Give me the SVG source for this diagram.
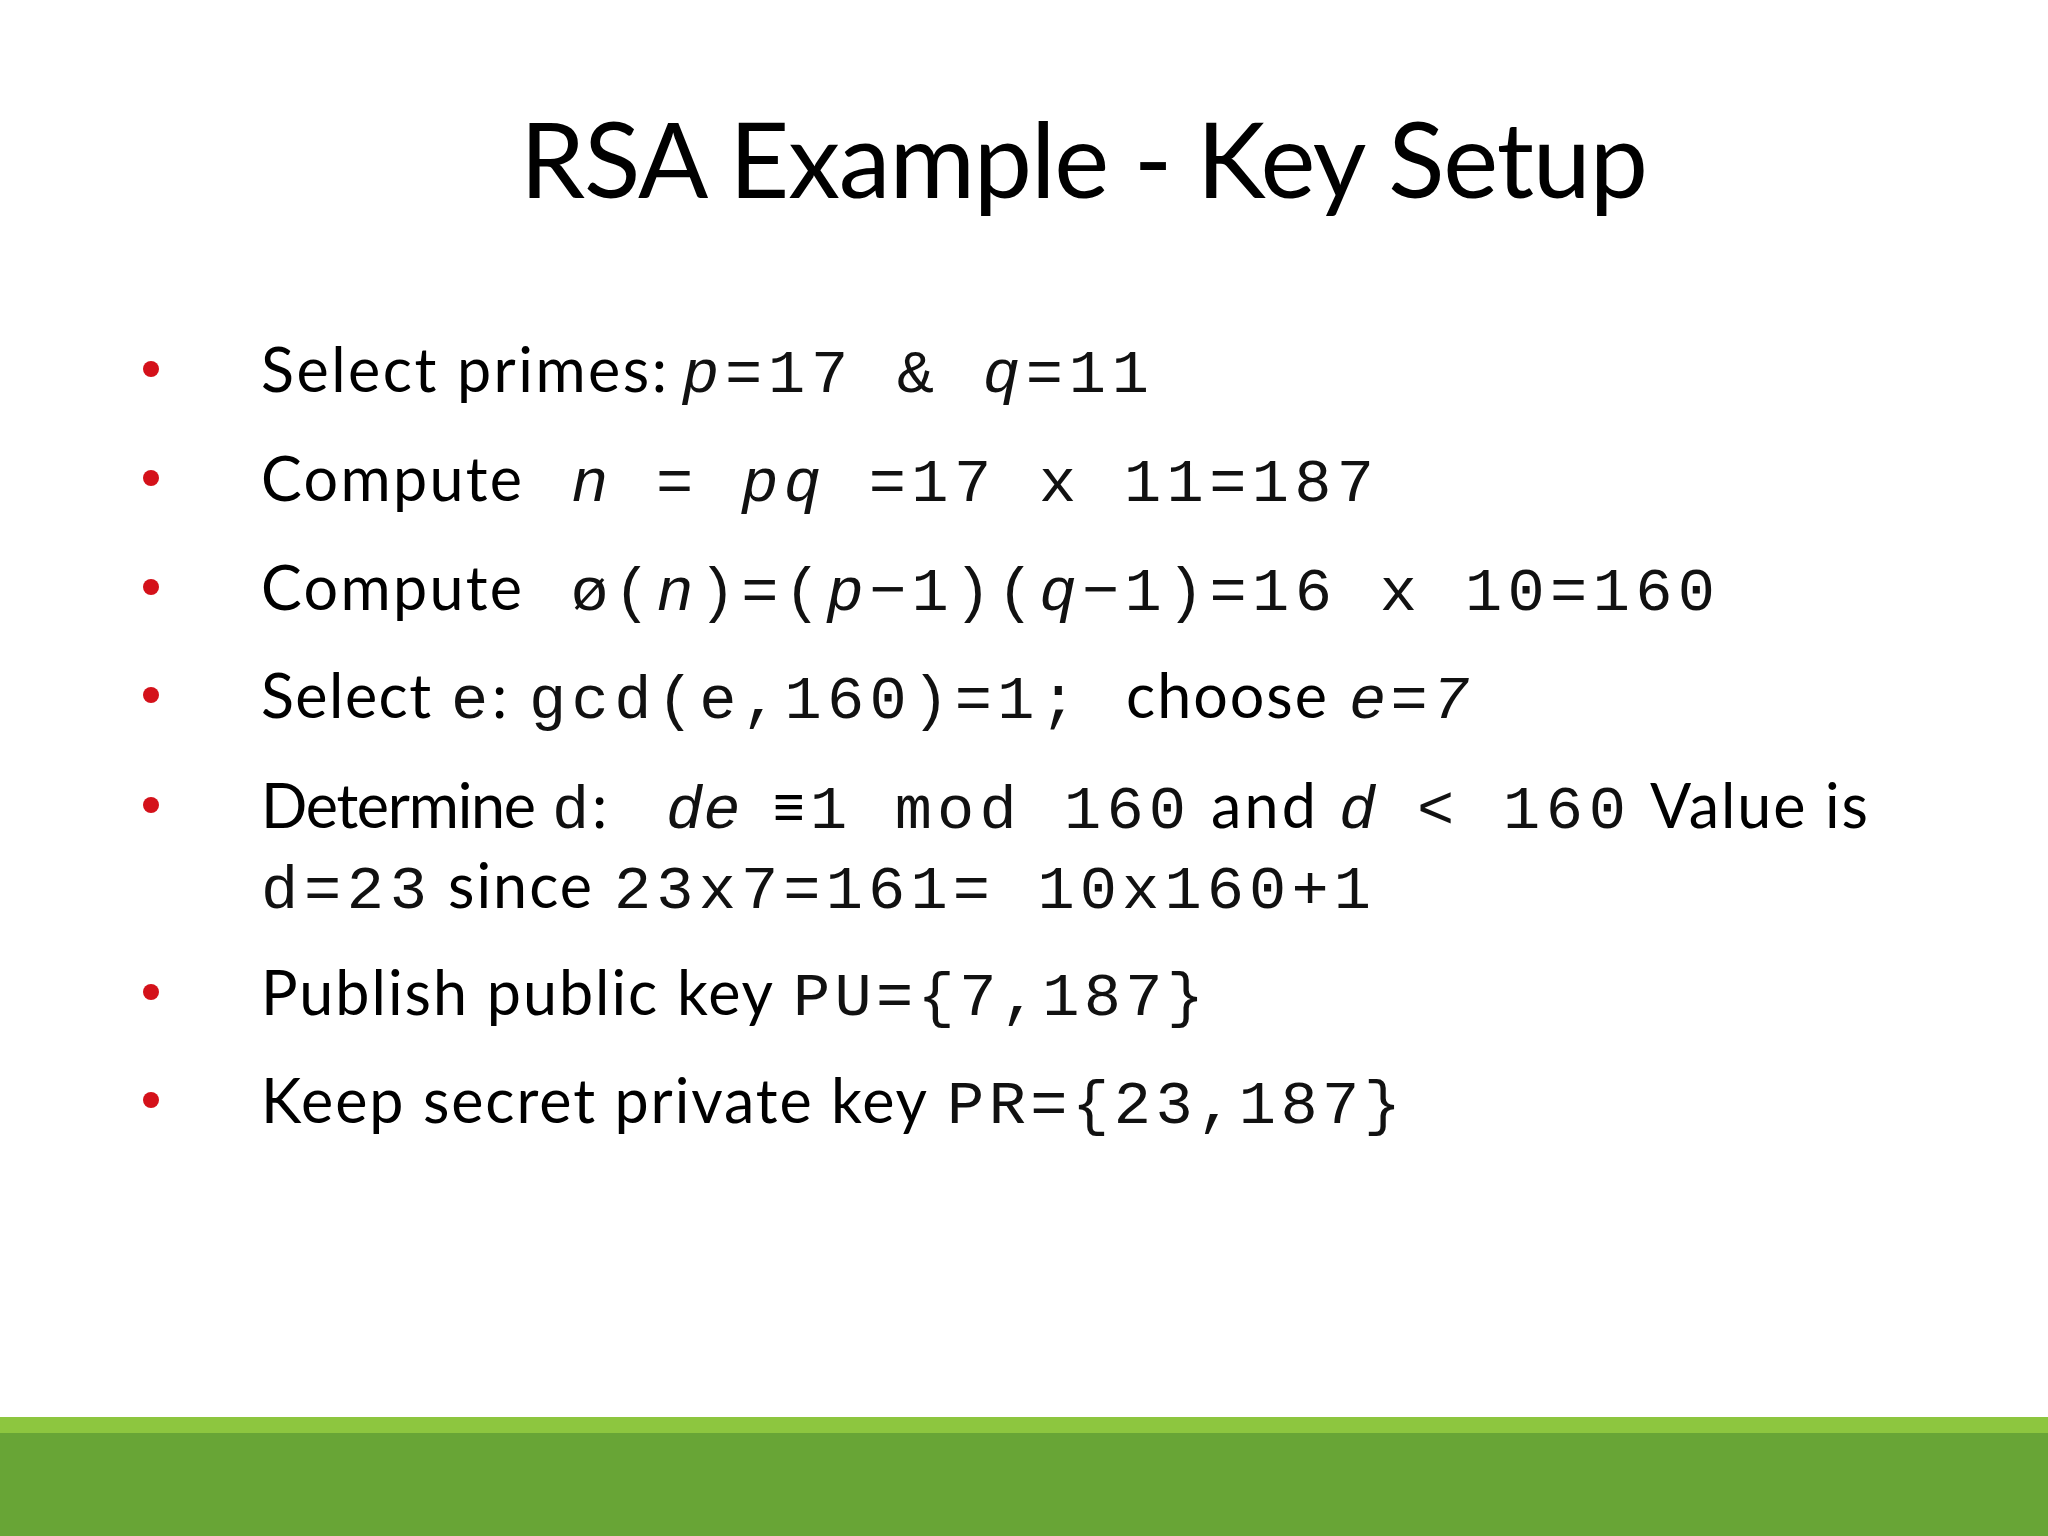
<svg xmlns="http://www.w3.org/2000/svg" width="2048" height="1536" viewBox="0 0 2048 1536">
<style>
.s{font-family:Lato,"Open Sans",sans-serif;font-size:61px;fill:#000}
.m{font-family:"Liberation Mono",monospace;font-size:62px;fill:#111}
.i{font-style:italic}
.b{fill:#d4111a}
</style>
<rect width="2048" height="1536" fill="#fff"/>
<g id="title"><text x="1084" y="198" text-anchor="middle" font-family="Lato,'Open Sans',sans-serif" font-size="104" fill="#000" textLength="1128">RSA Example - Key Setup</text></g>
<g id="bullets">
<circle class="b" cx="151" cy="369" r="8"/><circle class="b" cx="151" cy="478" r="8"/><circle class="b" cx="151" cy="587" r="8"/><circle class="b" cx="151" cy="695" r="8"/><circle class="b" cx="151" cy="805" r="8"/><circle class="b" cx="151" cy="992" r="8"/><circle class="b" cx="151" cy="1100" r="8"/>
</g>
<g id="l1"><text class="s" x="261" y="392" textLength="406">Select primes:</text><text class="m" x="682" y="392" textLength="467"><tspan class="i">p</tspan>=17 &amp; <tspan class="i">q</tspan>=11</text></g>
<g id="l2"><text class="s" x="261" y="501" textLength="261">Compute</text><text class="m" x="571" y="501" textLength="803"><tspan class="i">n</tspan> = <tspan class="i">pq</tspan> =17 x 11=187</text></g>
<g id="l3"><text class="s" x="261" y="610" textLength="261">Compute</text><text class="m" x="571" y="610" textLength="1144">ø(<tspan class="i">n</tspan>)=(<tspan class="i">p</tspan>−1)(<tspan class="i">q</tspan>−1)=16 x 10=160</text></g>
<g id="l4"><text class="s" x="261" y="718" textLength="170">Select</text><text class="m" x="451" y="718">e</text><text class="s" x="492" y="718">:</text><text class="m" x="529" y="718" textLength="548">gcd(e,160)=1;</text><text class="s" x="1126" y="718" textLength="201">choose</text><text class="m i" x="1349" y="718" textLength="120">e=7</text></g>
<g id="l5"><text class="s" x="261" y="828" textLength="275">Determine</text><text class="m" x="552" y="828">d</text><text class="s" x="592" y="828">:</text><text class="m i" x="666" y="828">de</text><text class="s" x="771" y="828">≡</text><text class="m" x="810" y="828" textLength="376">1 mod 160</text><text class="s" x="1211" y="828" textLength="105">and</text><text class="m i" x="1339" y="828">d</text><text class="m" x="1417" y="828" textLength="209">&lt; 160</text><text class="s" x="1650" y="828" textLength="218">Value is</text>
<text class="m" x="261" y="908" textLength="166">d=23</text><text class="s" x="448" y="908" textLength="144">since</text><text class="m" x="614" y="908" textLength="757">23x7=161= 10x160+1</text></g>
<g id="l6"><text class="s" x="261" y="1015" textLength="512">Publish public key</text><text class="m" x="793" y="1015" textLength="411">PU={7,187}</text></g>
<g id="l7"><text class="s" x="261" y="1123" textLength="666">Keep secret private key</text><text class="m" x="947" y="1123" textLength="454">PR={23,187}</text></g>
<g id="footer"><rect x="0" y="1417" width="2048" height="16" fill="#8dc63f"/><rect x="0" y="1433" width="2048" height="103" fill="#68a536"/></g>
</svg>
